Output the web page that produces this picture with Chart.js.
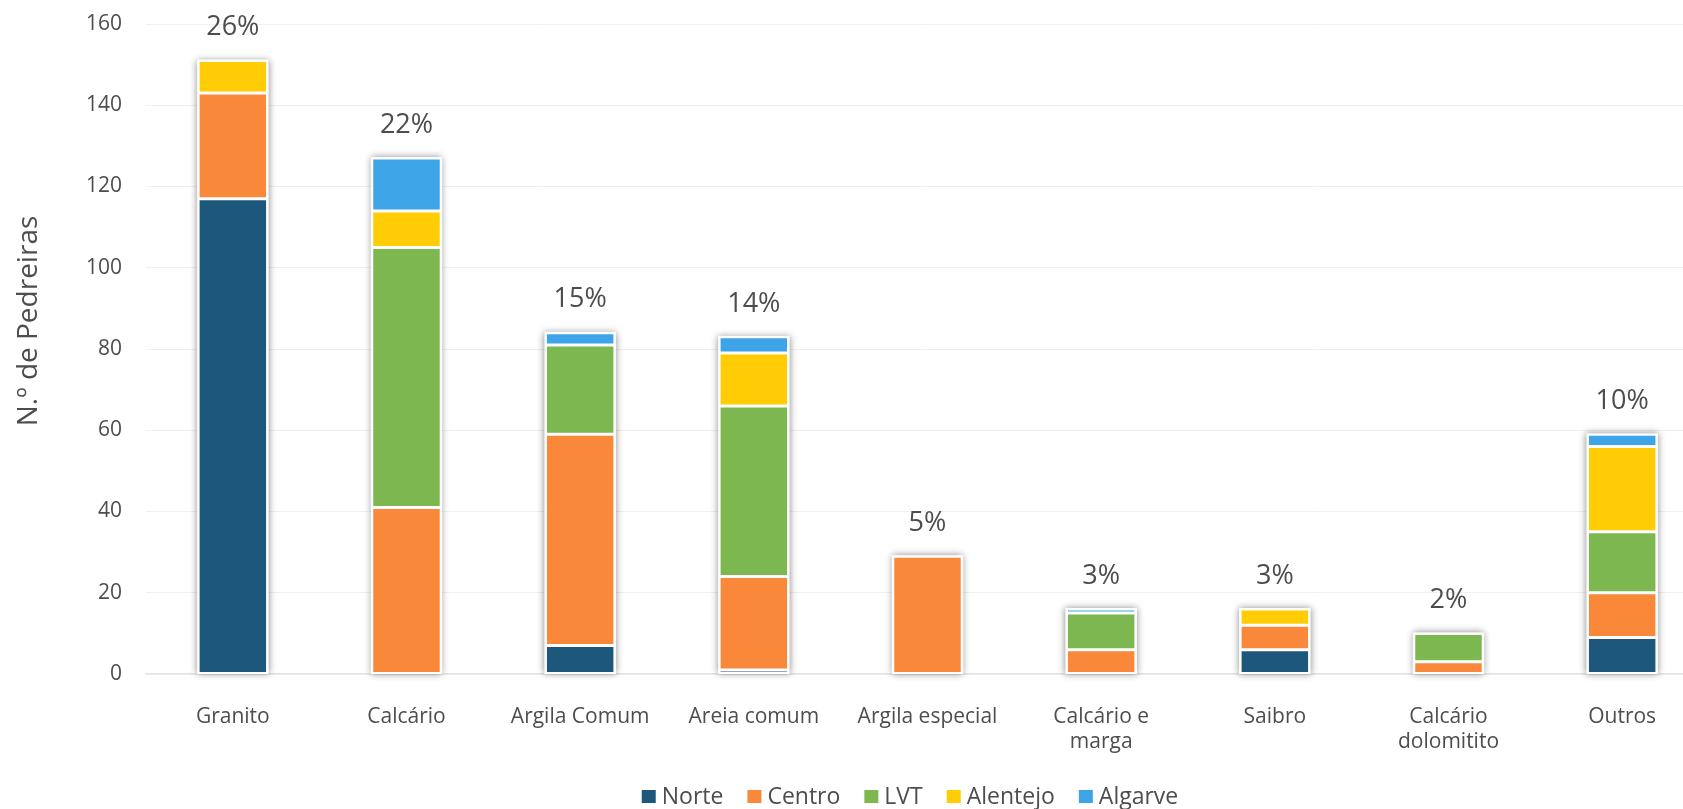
<!DOCTYPE html>
<html lang="pt">
<head>
<meta charset="UTF-8">
<title>Pedreiras por substância</title>
<style>
  html, body { margin: 0; padding: 0; background: #fff; overflow: hidden; }
  #wrap { width: 1712px; height: 809px; }
</style>
</head>
<body>
<div id="wrap"><canvas id="grafico" width="1712" height="809"></canvas></div>

<script src="https://cdn.jsdelivr.net/npm/chart.js"></script>
<script>
// dados
const categorias = ['Granito', 'Calcário', 'Argila Comum', 'Areia comum', 'Argila especial',
    ['Calcário e', 'marga'], 'Saibro', ['Calcário', 'dolomitito'], 'Outros'];
const norte    = [117, null, 7, 1, null, null, 6, null, 9];
const centro   = [26, 41, 52, 23, 29, 6, 6, 3, 11];
const lvt      = [null, 64, 22, 42, null, 9, null, 7, 15];
const alentejo = [8, 9, null, 13, null, null, 4, null, 21];
const algarve  = [null, 13, 3, 4, null, 1, null, null, 3];
const percentagens = ['26%', '22%', '15%', '14%', '5%', '3%', '3%', '2%', '10%'];
const eixoY = { min: 0, max: 160, passo: 20 };
const tituloY = 'N.º de Pedreiras';

const fonte = "'Open Sans', 'Noto Sans', sans-serif";
const cinza = '#4d4d4d';

// sombra por baixo de cada coluna empilhada, percentagens, título e legenda
const extras = {
    id: 'extras',
    beforeDatasetsDraw(chart) {
        const ctx = chart.ctx;
        const base = chart.scales.y.getPixelForValue(0);
        categorias.forEach((c, i) => {
            let topo = base, x = null, w = 0;
            chart.data.datasets.forEach((ds, d) => {
                const el = chart.getDatasetMeta(d).data[i];
                if (ds.data[i] == null || !el) return;
                topo = Math.min(topo, el.y);
                x = el.x; w = el.width;
            });
            if (x == null) return;
            ctx.save();
            ctx.shadowColor = 'rgba(0,0,0,0.45)';
            ctx.shadowBlur = 7;
            ctx.fillStyle = '#fff';
            ctx.fillRect(x - w / 2 - 1, topo - 1, w + 2, base - topo + 1);
            ctx.restore();
        });
    },
    afterDatasetsDraw(chart) {
        const ctx = chart.ctx;
        ctx.save();
        ctx.font = "27px " + fonte;
        ctx.fillStyle = cinza;
        ctx.textAlign = 'center';
        ctx.textBaseline = 'middle';
        categorias.forEach((c, i) => {
            let topo = Infinity, x = null;
            chart.data.datasets.forEach((ds, d) => {
                const el = chart.getDatasetMeta(d).data[i];
                if (ds.data[i] == null || !el) return;
                topo = Math.min(topo, el.y);
                x = el.x;
            });
            if (x != null) ctx.fillText(percentagens[i], x, topo - 33);
        });
        ctx.restore();
    },
    afterDraw(chart) {
        const ctx = chart.ctx;
        // título do eixo Y
        ctx.save();
        ctx.translate(29, 321);
        ctx.rotate(-Math.PI / 2);
        ctx.font = "28px " + fonte;
        ctx.fillStyle = cinza;
        ctx.textAlign = 'center';
        ctx.textBaseline = 'middle';
        ctx.fillText(tituloY, 0, 0);
        ctx.restore();

        // legenda
        ctx.save();
        ctx.font = "23px " + fonte;
        ctx.textBaseline = 'middle';
        const caixa = 14, gap = 6, esp = 24;
        const itens = chart.data.datasets.map(ds => ({ t: ds.label, c: ds.backgroundColor, w: caixa + gap + ctx.measureText(ds.label).width }));
        const total = itens.reduce((s, it) => s + it.w, 0) + esp * (itens.length - 1);
        let x = 910 - total / 2;
        const y = 797;
        itens.forEach(it => {
            ctx.fillStyle = it.c;
            ctx.fillRect(x, y - 7, caixa, 13);
            ctx.fillStyle = cinza;
            ctx.fillText(it.t, x + caixa + gap, y);
            x += it.w + esp;
        });
        ctx.restore();
    }
};

const ctx = document.getElementById('grafico');

const serie = (nome, valores, cor) => ({
    label: nome,
    data: valores,
    backgroundColor: cor,
    borderColor: '#ffffff',
    borderWidth: 1.5,
    borderSkipped: false,
    barPercentage: 1,
    categoryPercentage: 0.4
});

new Chart(ctx, {
    type: 'bar',
    data: {
        labels: categorias,
        datasets: [
            serie('Norte', norte, '#1d577b'),
            serie('Centro', centro, '#f9883a'),
            serie('LVT', lvt, '#7db74f'),
            serie('Alentejo', alentejo, '#ffcc05'),
            serie('Algarve', algarve, '#3ea4e8')
        ]
    },
    options: {
        responsive: false,
        animation: false,
        layout: { padding: { top: 24, right: 3, left: 0, bottom: 0 } },
        plugins: {
            legend: { display: false },
            tooltip: { enabled: false }
        },
        scales: {
            x: {
                stacked: true,
                grid: { display: false },
                border: { color: '#e3e3e3', width: 1.5 },
                ticks: { color: cinza, font: { family: fonte, size: 21 }, padding: 22, maxRotation: 0 },
                afterFit(axis) {
                    axis.height = 135;
                    axis.paddingLeft = 0; axis.paddingRight = 0;
                }
            },
            y: {
                stacked: true,
                min: eixoY.min,
                max: eixoY.max,
                grid: { color: '#f0f0f0', drawTicks: false },
                border: { display: false },
                ticks: { stepSize: eixoY.passo, color: cinza, font: { family: fonte, size: 21 }, padding: 24 },
                afterFit(axis) {
                    axis.width = 146;
                    axis.paddingTop = 0; axis.paddingBottom = 0;
                }
            }
        }
    },
    plugins: [extras]
});
</script>
</body>
</html>
